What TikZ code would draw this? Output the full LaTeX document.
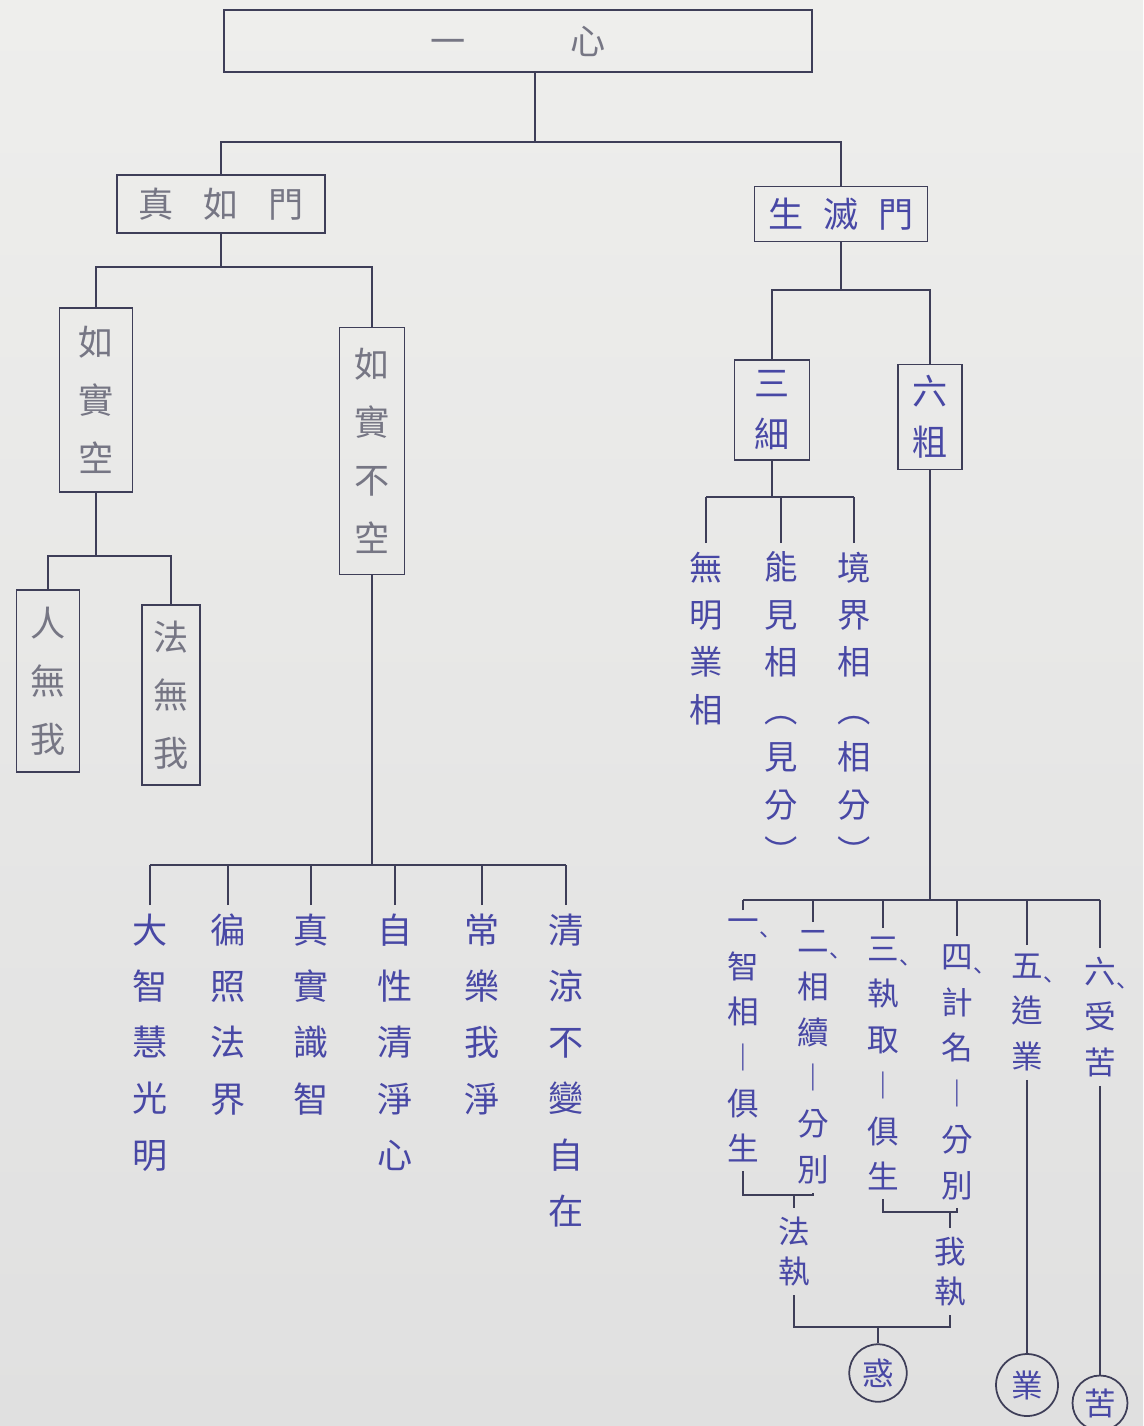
\documentclass[tikz,border=0pt]{standalone}
\usepackage{fontspec}
\newfontfamily\cjk{Noto Sans CJK TC}
\usetikzlibrary{positioning,calc}
\definecolor{papertop}{RGB}{238,238,236}
\definecolor{paperbot}{RGB}{224,224,224}
\definecolor{penline}{RGB}{62,62,88}
\definecolor{inkblue}{RGB}{72,72,165}
\definecolor{inkgray}{RGB}{118,118,132}
\newcommand{\dun}{\rlap{\kern-0.2em\raisebox{-0.36em}{\fontsize{13}{13}\selectfont 、}}}

\tikzset{
  box/.style={draw=penline,line width=1pt,inner sep=0pt,align=center,text=inkblue,
    font=\cjk\fontsize{20}{33}\selectfont},
  leaf/.style={inner sep=0pt,outer sep=5pt,anchor=north,align=center,text=inkblue,
    font=\cjk\fontsize{20}{32}\selectfont},
  small leaf/.style={leaf,font=\cjk\fontsize{18}{26}\selectfont},
  ring/.style={draw=penline,line width=1pt,circle,inner sep=0pt,text=inkblue,
    font=\cjk\fontsize{18}{18}\selectfont},
  link/.style={draw=penline,line width=1.1pt}
}

\begin{document}
\begin{tikzpicture}[x=0.02cm,y=-0.02cm]
  \shade[top color=papertop,bottom color=paperbot] (0,0) rectangle (1143,1426);
  \useasboundingbox (0,0) rectangle (1143,1426);

  % boxes
  \node[box,minimum width=11.76cm,minimum height=1.24cm,text=inkgray] (yixin) at (518,41) {一\hspace{2.1cm}心};
  \node[box,minimum width=4.16cm,minimum height=1.16cm,text=inkgray] (zhenru) at (221,204) {真\hspace{0.6cm}如\hspace{0.6cm}門};
  \node[box,minimum width=3.46cm,minimum height=1.1cm] (shengmie) at (841,214) {生\hspace{0.4cm}滅\hspace{0.4cm}門};
  \node[box,minimum width=1.46cm,minimum height=3.68cm,text=inkgray] (rsk) at (96,400) {如\\實\\空};
  \node[box,minimum width=1.3cm,minimum height=4.94cm,text=inkgray] (rsbk) at (372,451) {如\\實\\不\\空};
  \node[box,minimum width=1.26cm,minimum height=3.64cm,text=inkgray] (renwu) at (48,681) {人\\無\\我};
  \node[box,minimum width=1.16cm,minimum height=3.6cm,text=inkgray] (fawu) at (171,695) {法\\無\\我};
  \node[box,minimum width=1.5cm,minimum height=2cm,font=\cjk\fontsize{20}{29}\selectfont] (sanxi) at (772,410) {三\\細};
  \node[box,minimum width=1.28cm,minimum height=2.1cm,font=\cjk\fontsize{20}{29}\selectfont] (liucu) at (930,417) {六\\粗};

  % upper branches
  \coordinate (j1) at (535,142);
  \draw[link] (yixin.south -| j1) -- (j1);
  \draw[link] (zhenru.north) |- (j1) -| (shengmie.north);
  \coordinate (j2) at (221,267);
  \draw[link] (zhenru.south) -- (j2);
  \draw[link] (rsk.north) |- (j2) -| (rsbk.north);
  \coordinate (j3) at (96,556);
  \draw[link] (rsk.south) -- (j3);
  \draw[link] (renwu.north) |- (j3) -| (fawu.north);
  \coordinate (j5) at (841,290);
  \draw[link] (shengmie.south) -- (j5);
  \draw[link] (sanxi.north) |- (j5) -| (liucu.north);

  % 如實不空
  \coordinate (j4) at (372,865);
  \draw[link] (rsbk.south) -- (j4);
  \foreach \x/\t [count=\i] in {150/{大\\智\\慧\\光\\明},228/{徧\\照\\法\\界},311/{真\\實\\識\\智},
      395/{自\\性\\清\\淨\\心},482/{常\\樂\\我\\淨},566/{清\\涼\\不\\變\\自\\在}}{
    \node[leaf] (bk\i) at (\x,905) {\t};
    \draw[link] (bk\i.north) -- (bk\i.north |- j4);
  }
  \draw[link] (bk1.north |- j4) -- (bk6.north |- j4);

  % 三細
  \coordinate (j6) at (772,497);
  \draw[link] (sanxi.south) -- (j6);
  \foreach \x/\t [count=\i] in {706/{無\\明\\業\\相},781/{能\\見\\相\\︵\\見\\分\\︶},854/{境\\界\\相\\︵\\相\\分\\︶}}{
    \node[leaf,font=\cjk\fontsize{19}{27}\selectfont] (sx\i) at (\x,543) {\t};
    \draw[link] (sx\i.north) -- (sx\i.north |- j6);
  }
  \draw[link] (sx1.north |- j6) -- (sx3.north |- j6);

  % 六粗
  \coordinate (j7) at (930,900);
  \draw[link] (liucu.south) -- (j7);
  \foreach \x/\y/\t [count=\i] in {743/910/{一\dun\\智\\相\\︱\\俱\\生},813/922/{二\dun\\相\\續\\︱\\分\\別},
      883/928/{三\dun\\執\\取\\︱\\俱\\生},957/936/{四\dun\\計\\名\\︱\\分\\別},
      1027/945/{五\dun\\造\\業},1100/948/{六\dun\\受\\苦}}{
    \node[small leaf] (lc\i) at (\x,\y) {\t};
    \draw[link] (lc\i.north) -- (lc\i.north |- j7);
  }
  \draw[link] (lc1.north |- j7) -- (lc6.north |- j7);

  % 法執 / 我執
  \coordinate (b1) at (794,1195);
  \draw[link] (lc1.south) |- (b1) -| (lc2.south);
  \node[leaf,font=\cjk\fontsize{18}{23}\selectfont] (fazhi) at (794,1208) {法\\執};
  \draw[link] (b1) -- (fazhi.north);
  \coordinate (b2) at (950,1212);
  \draw[link] (lc3.south) |- (b2) -| (lc4.south);
  \node[leaf,font=\cjk\fontsize{18}{23}\selectfont] (wozhi) at (950,1228) {我\\執};
  \draw[link] (b2) -- (wozhi.north);
  \coordinate (b3) at (878,1327);
  \draw[link] (fazhi.south) |- (b3) -| (wozhi.south);

  % 惑 業 苦
  \node[ring,minimum size=1.15cm] (huo) at (878,1373) {惑};
  \draw[link] (b3) -- (huo.north);
  \node[ring,minimum size=1.24cm] (ye) at (1027,1385) {業};
  \draw[link] (lc5.south) -- (ye.north);
  \node[ring,minimum size=1.1cm] (ku) at (1100,1403) {苦};
  \draw[link] (lc6.south) -- (ku.north);
\end{tikzpicture}
\end{document}
